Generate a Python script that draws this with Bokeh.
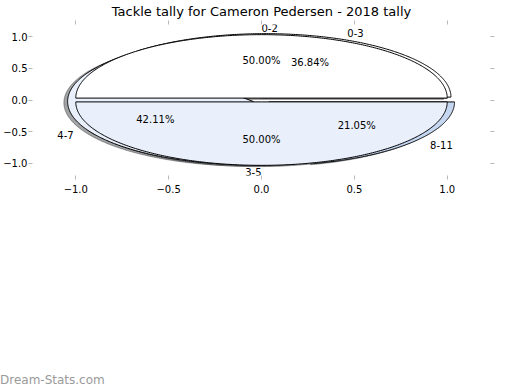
import numpy as np
from bokeh.plotting import figure
from bokeh.layouts import column
from bokeh.models import (ColumnDataSource, FixedTicker, LinearAxis, Range1d, Div,
                          LabelSet, CustomJSTickFormatter)
from bokeh.core.properties import value
from bokeh.embed import file_html
from bokeh.resources import INLINE

# ---------------- data ----------------
title_text = "Tackle tally for Cameron Pedersen - 2018 tally"
watermark = "Dream-Stats.com"

# pie drawn underneath
outer_labels = ["0-3", "4-7", "8-11"]
outer_values = [36.84, 42.11, 21.05]
outer_colors = ["#ffffff", "#e9effb", "#c5d6f0"]
outer_explode = [0.05, 0.05, 0.05]

# pie drawn on top
inner_labels = ["0-2", "3-5"]
inner_values = [50.00, 50.00]
inner_colors = ["#ffffff", "#e9effb"]
inner_explode = [0.03, 0.03]

axis_ticks = [-1.0, -0.5, 0.0, 0.5, 1.0]

SHADOW_OFF = -0.02
FONT = "DejaVu Sans"


def shade(hex_color, k=0.3):
    h = hex_color.lstrip("#")
    r, g, b = (int(h[i:i + 2], 16) for i in (0, 2, 4))
    return "#%02x%02x%02x" % (int(r * k), int(g * k), int(b * k))


def pie_parts(labels, values, colors, explode):
    fr = np.asarray(values, dtype=float) / np.sum(values)
    theta = 0.0
    wed = dict(xs=[], ys=[], fill=[])
    sh = dict(xs=[], ys=[], fill=[])
    lab = dict(x=[], y=[], text=[], align=[])
    pct = dict(x=[], y=[], text=[])
    for f, lbl, col, e in zip(fr, labels, colors, explode):
        t1, t2 = theta, theta + 360.0 * f
        mid = np.deg2rad((t1 + t2) / 2.0)
        cx, cy = e * np.cos(mid), e * np.sin(mid)
        th = np.deg2rad(np.linspace(t1, t2, 241))
        xs = np.concatenate([[cx], cx + np.cos(th), [cx]])
        ys = np.concatenate([[cy], cy + np.sin(th), [cy]])
        wed["xs"].append(xs.tolist()); wed["ys"].append(ys.tolist()); wed["fill"].append(col)
        sh["xs"].append((xs + SHADOW_OFF).tolist()); sh["ys"].append((ys + SHADOW_OFF).tolist())
        sh["fill"].append(shade(col))
        xt = cx + 1.1 * np.cos(mid)
        yt = cy + 1.1 * np.sin(mid)
        lab["x"].append(xt); lab["y"].append(yt); lab["text"].append(lbl)
        lab["align"].append("left" if xt > 0 else "right")
        pct["x"].append(cx + 0.6 * np.cos(mid)); pct["y"].append(cy + 0.6 * np.sin(mid))
        pct["text"].append("%.2f%%" % (100.0 * f))
        theta = t2
    return wed, sh, lab, pct


outer = pie_parts(outer_labels, outer_values, outer_colors, outer_explode)
inner = pie_parts(inner_labels, inner_values, inner_colors, inner_explode)

# ---------------- main figure ----------------
p = figure(width=520, height=200,
           x_range=Range1d(-1.233, 1.233), y_range=Range1d(-1.19, 1.19),
           output_backend="svg", toolbar_location=None,
           min_border_left=29, min_border_right=30, min_border_top=23, min_border_bottom=25)
p.grid.visible = False
p.outline_line_color = None
p.background_fill_color = "white"
p.border_fill_color = "white"

p.title.text = title_text
p.title.align = "center"
p.title.text_font = FONT
p.title.text_font_size = "13px"
p.title.text_font_style = "normal"
p.title.text_color = "black"
p.title.standoff = 3

p.add_layout(LinearAxis(), "right")
p.add_layout(LinearAxis(), "above")

num_fmt = CustomJSTickFormatter(
    code="return (tick < 0 ? '\u2212' : '') + Math.abs(tick).toFixed(1);")
blank_fmt = CustomJSTickFormatter(code="return '';")

for ax in p.axis:
    ax.ticker = FixedTicker(ticks=axis_ticks)
    ax.axis_line_color = None
    ax.major_tick_line_color = "#b8b8b8"
    ax.major_tick_line_width = 1
    ax.minor_tick_line_color = None
    ax.major_tick_in = 0
    ax.major_tick_out = 4
    ax.major_label_text_font = FONT
    ax.major_label_text_font_size = "10px"
    ax.major_label_text_color = "black"
for ax in p.below + p.left:
    if isinstance(ax, LinearAxis):
        ax.formatter = num_fmt
for ax in p.right + p.above:
    if isinstance(ax, LinearAxis):
        ax.formatter = blank_fmt
        ax.major_label_standoff = 0
p.yaxis[0].major_label_standoff = 1
p.xaxis[0].major_label_standoff = 3


def draw_shadows(parts):
    src = ColumnDataSource(parts[1])
    p.patches("xs", "ys", source=src, fill_color="fill", fill_alpha=0.5,
              line_color="fill", line_alpha=0.5, line_width=1)


def draw_wedges(parts):
    src = ColumnDataSource(parts[0])
    p.patches("xs", "ys", source=src, fill_color="fill", line_color="black",
              line_width=1)


def draw_texts(parts):
    ls = LabelSet(x="x", y="y", text="text", source=ColumnDataSource(parts[2]),
                  text_align="align", text_baseline="middle",
                  text_font=value(FONT), text_font_size=value("10px"), text_color="black")
    ps = LabelSet(x="x", y="y", text="text", source=ColumnDataSource(parts[3]),
                  text_align="center", text_baseline="middle",
                  text_font=value(FONT), text_font_size=value("10px"), text_color="black")
    p.add_layout(ls)
    p.add_layout(ps)


draw_shadows(outer)
draw_shadows(inner)
draw_wedges(outer)
draw_wedges(inner)
draw_texts(outer)
draw_texts(inner)

# ---------------- footer with watermark ----------------
footer = Div(
    text=('<div style="margin:173px 0 0 0;padding:0;line-height:14px;'
          'font-family:\'DejaVu Sans\';font-size:12px;color:#9a9a9a;'
          'white-space:nowrap;">%s</div>' % watermark),
    width=520, height=190, margin=(0, 0, 0, 0))

layout = column(p, footer, spacing=0)
open("out.html", "w").write(file_html(layout, INLINE))
